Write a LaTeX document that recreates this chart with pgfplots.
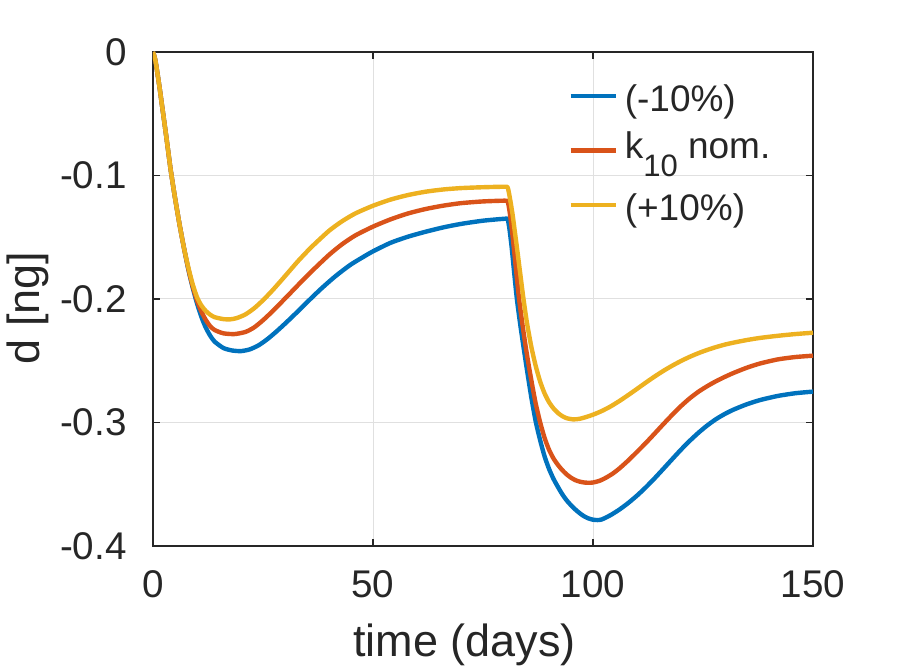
\documentclass[border=0pt]{standalone}
\usepackage{fontspec}
\setmainfont{Liberation Sans}
\usepackage{pgfplots}
\pgfplotsset{compat=1.18}
\usepackage{pgfplotstable}
\definecolor{mblue}{rgb}{0,0.447,0.741}
\definecolor{mred}{rgb}{0.85,0.325,0.098}
\definecolor{myel}{rgb}{0.929,0.694,0.125}
\definecolor{axgray}{rgb}{0.15,0.15,0.15}
\definecolor{gridgray}{rgb}{0.88,0.88,0.88}

\pgfplotstableread{
t d
0 0
0.5 -0.006
1 -0.017
1.5 -0.029
2 -0.042
3 -0.068
4 -0.095
5 -0.118
6 -0.139
7 -0.158
8 -0.1755
9 -0.1905
10 -0.2035
11 -0.2145
12 -0.2232
13 -0.2297
14 -0.2345
16 -0.2397
18 -0.2417
20 -0.2422
22 -0.2408
24 -0.2375
26 -0.2325
28 -0.2265
30 -0.2200
32 -0.2132
34 -0.2062
36 -0.1992
38 -0.1924
40 -0.1860
42 -0.1800
45 -0.1720
48 -0.1655
50 -0.1614
54 -0.1545
58 -0.1495
62 -0.1455
66 -0.1420
70 -0.1392
75 -0.1366
80 -0.1350
80.6 -0.1355
81 -0.1430
81.5 -0.1576
82 -0.1755
82.7 -0.2000
83.5 -0.2215
84.2 -0.2386
85 -0.2575
86 -0.2800
87 -0.2995
88 -0.3145
89 -0.3275
90 -0.3375
91 -0.3455
92 -0.3520
93 -0.3580
94 -0.3630
95 -0.3670
96 -0.3705
97 -0.3735
98 -0.3760
99 -0.3777
100 -0.3787
101 -0.3790
102 -0.3785
104 -0.3750
106 -0.3705
108 -0.3652
110 -0.3592
112 -0.3525
114 -0.3452
116 -0.3375
118 -0.3297
120 -0.3220
122 -0.3148
124 -0.3082
126 -0.3023
128 -0.2972
130 -0.2930
132 -0.2895
135 -0.2852
138 -0.2818
142 -0.2785
146 -0.2763
150 -0.2750
}\blue

\pgfplotstableread{
t d
0 0
0.5 -0.006
1 -0.017
1.5 -0.029
2 -0.042
3 -0.068
4 -0.095
5 -0.118
6 -0.139
7 -0.158
8 -0.175
9 -0.1895
10 -0.2012
11 -0.2102
12 -0.2170
13 -0.2220
14 -0.2251
16 -0.2278
18.5 -0.2284
21 -0.2267
23 -0.2230
25 -0.2172
27 -0.2105
29 -0.2033
31 -0.1960
33 -0.1886
36 -0.1778
40 -0.1643
43 -0.1556
46 -0.1485
50 -0.1414
54 -0.1355
58 -0.1307
62 -0.1271
66 -0.1244
70 -0.1224
75 -0.1210
80 -0.1204
80.6 -0.1212
81 -0.1280
81.6 -0.1450
82.2 -0.1655
82.7 -0.1830
83.2 -0.2000
84 -0.2215
84.7 -0.2386
85.5 -0.2560
86.3 -0.2720
87 -0.2850
88 -0.3000
89 -0.3125
90 -0.3220
91 -0.3290
92 -0.3342
93 -0.3385
94 -0.3420
95 -0.3447
96 -0.3467
97 -0.3479
98 -0.3486
99 -0.3488
100 -0.3486
101.5 -0.3472
103 -0.3446
104.6 -0.3411
106 -0.3372
108 -0.3308
110 -0.3238
112 -0.3166
114 -0.3090
116 -0.3013
118 -0.2938
120 -0.2867
122 -0.2804
124 -0.2750
126 -0.2705
128 -0.2665
130 -0.2630
132 -0.2598
135 -0.2556
138 -0.2522
142 -0.2489
146 -0.2470
150 -0.2459
}\red

\pgfplotstableread{
t d
0 0
0.5 -0.006
1 -0.017
1.5 -0.029
2 -0.042
3 -0.068
4 -0.095
5 -0.118
6 -0.139
7 -0.158
8 -0.174
9 -0.1878
10 -0.1985
11 -0.2053
12 -0.2097
13 -0.2127
14 -0.2147
16 -0.2163
17.5 -0.2165
19 -0.2155
21 -0.2125
23 -0.2075
25 -0.2010
27 -0.1936
29 -0.1856
31 -0.1774
33 -0.1692
36 -0.1580
40 -0.1448
43 -0.1370
46 -0.1307
50 -0.1245
54 -0.1195
58 -0.1158
62 -0.1131
66 -0.1113
70 -0.1102
75 -0.1095
80 -0.1091
80.6 -0.1097
81 -0.1160
81.7 -0.1310
82.2 -0.1445
82.7 -0.1580
83.5 -0.1805
84.2 -0.2000
85 -0.2195
86 -0.2390
87 -0.2545
88 -0.2670
89 -0.2765
90 -0.2835
91 -0.2885
92 -0.2922
93 -0.2948
94 -0.2965
95.5 -0.2975
97 -0.2970
98.5 -0.2955
100 -0.2937
102 -0.2907
104 -0.2870
106 -0.2826
108 -0.2778
110 -0.2728
112 -0.2677
114 -0.2628
116 -0.2582
118 -0.2540
120 -0.2502
122 -0.2468
124 -0.2438
126 -0.2412
128 -0.2389
130 -0.2369
132 -0.2353
135 -0.2332
138 -0.2315
142 -0.2298
146 -0.2284
150 -0.2273
}\yel

\begin{document}
\begin{tikzpicture}
\path[use as bounding box] (-76.5pt,-60.5pt) rectangle (373.5pt,273pt);
\begin{axis}[
  at={(0,0)}, anchor=south west,
  scale only axis, width=330pt, height=247pt,
  xmin=0, xmax=150, ymin=-0.4, ymax=0,
  xtick={0,50,100,150}, xticklabels={0,50,100,150},
  ytick={-0.4,-0.3,-0.2,-0.1,0}, yticklabels={-0.4,-0.3,-0.2,-0.1,0},
  tick align=inside, tick pos=both,
  major tick length=3.5pt,
  every tick/.style={axgray, line width=0.6pt},
  axis line style={axgray, line width=0.6pt},
  grid=major, major grid style={gridgray, line width=0.5pt},
  tick label style={font=\fontsize{19.3}{19.3}\selectfont, text=axgray},
  xticklabel style={inner sep=0pt, anchor=north, yshift=-12pt},
  yticklabel style={inner sep=0pt, anchor=east, xshift=-13pt},
  xlabel={time (days)}, ylabel={d [ng]},
  label style={font=\fontsize{22.5}{22.5}\selectfont, text=axgray},
  xlabel style={at={(axis description cs:0.472,-0.2247)}, anchor=base, inner sep=0pt},
  ylabel style={at={(axis description cs:-0.1727,0.482)}, anchor=base, inner sep=0pt},
  legend image code/.code={\draw[#1] (0pt,3.2pt) -- (22.5pt,3.2pt);},
  legend style={at={(axis description cs:0.6288,0.937)}, anchor=north west,
    draw=none, fill=none, inner sep=0pt, row sep=8.25pt, column sep=3.5pt,
    font=\fontsize{18.5}{18.5}\selectfont, text=axgray,
    nodes={inner sep=0pt, text height=14pt, text depth=5pt}},
  legend cell align=left,
  every axis plot/.append style={line width=2.2pt, line join=round, smooth, tension=0.4},
]
\addplot[mblue] table[x=t,y=d] {\blue};
\addlegendentry{(-10\%)}
\addplot[mred] table[x=t,y=d] {\red};
\addlegendentry{\raisebox{4pt}{k\raisebox{-9pt}[0pt][0pt]{\fontsize{15.5}{15.5}\selectfont 10} nom.}}
\addplot[myel] table[x=t,y=d] {\yel};
\addlegendentry{(+10\%)}
\end{axis}
\end{tikzpicture}
\end{document}
